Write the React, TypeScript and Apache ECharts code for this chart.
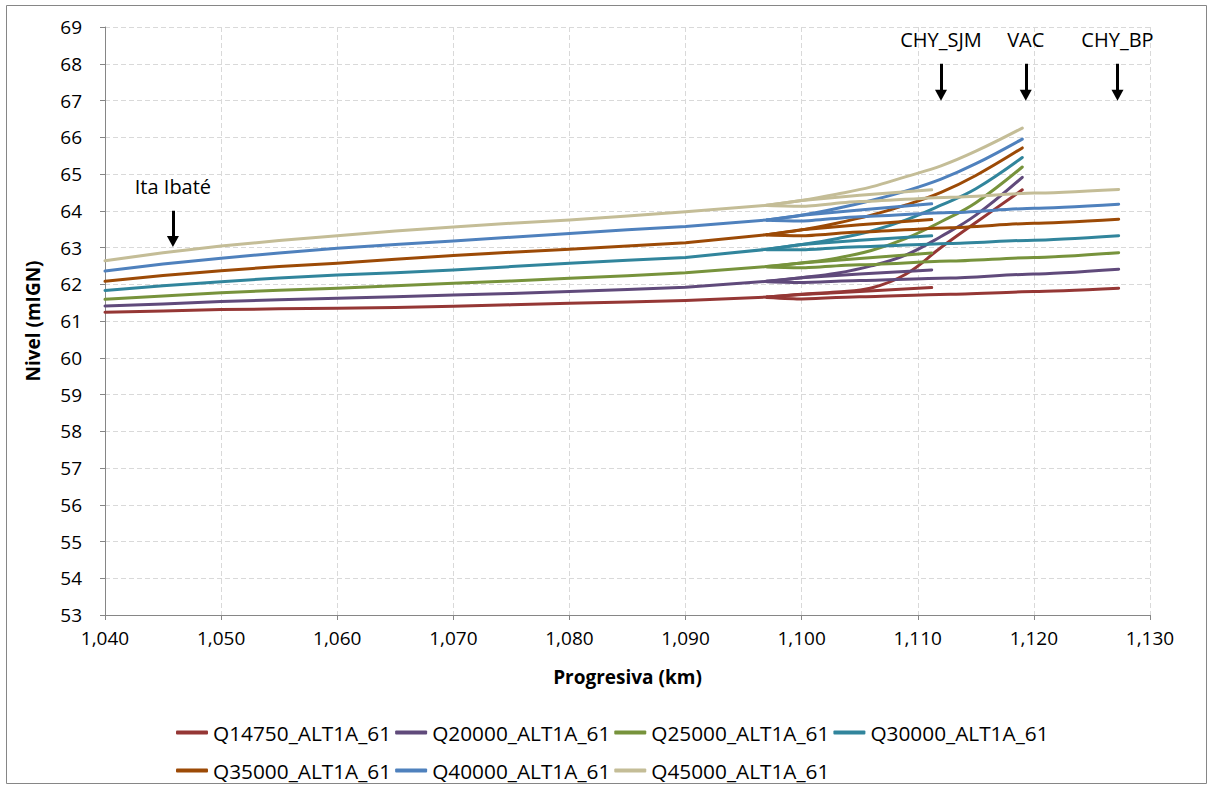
import React, { useEffect, useRef } from "react";
import * as echarts from "echarts";

// ---------- data ----------
const flowNames = [
  "Q14750_ALT1A_61",
  "Q20000_ALT1A_61",
  "Q25000_ALT1A_61",
  "Q30000_ALT1A_61",
  "Q35000_ALT1A_61",
  "Q40000_ALT1A_61",
  "Q45000_ALT1A_61",
];

const flowColors = ["#953735", "#604a7b", "#77933c", "#31859c", "#9c4a06", "#4f81bd", "#c4bd97"];

// main reach (upstream of the split)
const mainKm = [1040, 1045, 1050, 1055, 1060, 1065, 1070, 1075, 1080, 1085, 1090, 1097];
const levelsMain = [
  [61.24, 61.27, 61.31, 61.33, 61.35, 61.37, 61.40, 61.44, 61.48, 61.52, 61.56, 61.65],
  [61.41, 61.46, 61.53, 61.58, 61.62, 61.66, 61.71, 61.75, 61.80, 61.86, 61.92, 62.08],
  [61.59, 61.68, 61.77, 61.84, 61.89, 61.96, 62.03, 62.09, 62.16, 62.23, 62.31, 62.48],
  [61.83, 61.96, 62.07, 62.17, 62.25, 62.31, 62.39, 62.48, 62.57, 62.65, 62.73, 62.95],
  [62.08, 62.24, 62.37, 62.48, 62.57, 62.68, 62.78, 62.87, 62.95, 63.04, 63.13, 63.35],
  [62.36, 62.55, 62.71, 62.85, 62.98, 63.08, 63.18, 63.28, 63.38, 63.48, 63.57, 63.75],
  [62.64, 62.86, 63.04, 63.19, 63.32, 63.45, 63.56, 63.66, 63.75, 63.86, 63.97, 64.15],
];

// branch rising to VAC
const vacKm = [1097, 1100, 1103, 1106, 1109, 1112, 1115, 1119];
const levelsVac = [
  [61.65, 61.73, 61.79, 61.90, 62.28, 63.00, 63.68, 64.57],
  [62.08, 62.18, 62.30, 62.50, 62.80, 63.30, 63.88, 64.91],
  [62.48, 62.58, 62.71, 62.92, 63.25, 63.70, 64.22, 65.19],
  [62.95, 63.08, 63.24, 63.45, 63.75, 64.15, 64.60, 65.45],
  [63.35, 63.48, 63.66, 63.88, 64.16, 64.50, 64.96, 65.71],
  [63.75, 63.88, 64.06, 64.28, 64.54, 64.86, 65.28, 65.95],
  [64.15, 64.28, 64.45, 64.65, 64.93, 65.22, 65.62, 66.25],
];

// branch to CHY_SJM
const sjmKm = [1097, 1100, 1105, 1111.2];
const levelsSjm = [
  [61.65, 61.72, 61.80, 61.91],
  [62.08, 62.18, 62.28, 62.39],
  [62.48, 62.58, 62.70, 62.85],
  [62.95, 63.08, 63.20, 63.32],
  [63.35, 63.48, 63.62, 63.76],
  [63.75, 63.88, 64.02, 64.19],
  [64.15, 64.28, 64.42, 64.57],
];

// branch to CHY_BP
const bpKm = [1097, 1100, 1105, 1112.8, 1120, 1127.3];
const levelsBp = [
  [61.64, 61.60, 61.66, 61.73, 61.80, 61.89],
  [62.07, 62.05, 62.10, 62.17, 62.28, 62.41],
  [62.47, 62.45, 62.53, 62.63, 62.73, 62.86],
  [62.94, 62.94, 63.02, 63.11, 63.20, 63.32],
  [63.34, 63.32, 63.42, 63.54, 63.66, 63.77],
  [63.74, 63.72, 63.84, 63.95, 64.07, 64.18],
  [64.14, 64.12, 64.25, 64.37, 64.48, 64.58],
];

// annotations: label, km, arrow top level, arrow tip level, label level
const annotationNames = ["Ita Ibaté", "CHY_SJM", "VAC", "CHY_BP"];
const annotationKm = [1045.85, 1112.0, 1119.3, 1127.2];
const annotationTop = [64.0, 68.0, 68.0, 68.0];
const annotationTip = [63.02, 67.0, 67.0, 67.0];
const annotationLabelLevel = [64.65, 68.65, 68.65, 68.65];

const xMin = 1040;
const xMax = 1130;
const xStep = 10;
const yMin = 53;
const yMax = 69;
const yStep = 1;

const FONT = "'Open Sans', 'Noto Sans', sans-serif";

function pairs(km: number[], lv: number[]) {
  return km.map((k, i) => [k, lv[i]]);
}

export default function App() {
  const ref = useRef<HTMLDivElement>(null);

  useEffect(() => {
    if (!ref.current) return;
    const chart = echarts.init(ref.current, undefined, { renderer: "svg" });

    const series: any[] = [];
    flowNames.forEach((name, i) => {
      const base = {
        name,
        type: "line",
        symbol: "none",
        showSymbol: false,
        silent: true,
        color: flowColors[i],
        lineStyle: { width: 3, color: flowColors[i], cap: "round", join: "round" },
        emphasis: { disabled: true },
      };
      series.push({ ...base, data: pairs(mainKm, levelsMain[i]) });
      series.push({ ...base, smooth: 0.4, data: pairs(vacKm, levelsVac[i]) });
      series.push({ ...base, data: pairs(sjmKm, levelsSjm[i]) });
      series.push({ ...base, smooth: 0.2, smoothMonotone: "x", data: pairs(bpKm, levelsBp[i]) });
    });

    // annotation arrows + labels
    const tipPad = 0.14; // arrow-head half size in level units
    series.push({
      name: "annotations",
      type: "line",
      data: [],
      silent: true,
      markLine: {
        silent: true,
        animation: false,
        symbol: ["none", "triangle"],
        symbolSize: [12, 11],
        lineStyle: { color: "#000", width: 3, type: "solid" },
        label: { show: false },
        emphasis: { disabled: true },
        data: annotationNames.map((n, i) => [
          { coord: [annotationKm[i], annotationTop[i]] },
          { coord: [annotationKm[i], annotationTip[i] + tipPad] },
        ]),
      },
      markPoint: {
        silent: true,
        animation: false,
        symbol: "circle",
        symbolSize: 1,
        itemStyle: { color: "rgba(0,0,0,0)" },
        label: {
          show: true,
          position: "inside",
          formatter: "{b}",
          color: "#000",
          fontFamily: FONT,
          fontSize: 20,
        },
        data: annotationNames.map((n, i) => ({
          name: n,
          coord: [annotationKm[i], annotationLabelLevel[i]],
        })),
      },
    });

    const legendCommon = {
      left: 171,
      orient: "horizontal",
      icon: "roundRect",
      itemWidth: 32,
      itemHeight: 4,
      itemGap: 4,
      selectedMode: false,
      textStyle: {
        fontFamily: FONT,
        fontSize: 20.8,
        color: "#000",
      },
    };

    chart.setOption({
      animation: false,
      backgroundColor: "#ffffff",
      grid: { left: 105, right: 63, top: 27, bottom: 174, containLabel: false },
      legend: [
        { ...legendCommon, top: 717, data: flowNames.slice(0, 4) },
        { ...legendCommon, top: 755, data: flowNames.slice(4) },
      ],
      xAxis: {
        type: "value",
        min: xMin,
        max: xMax,
        interval: xStep,
        name: "Progresiva (km)",
        nameLocation: "middle",
        nameGap: 52,
        nameTextStyle: { fontFamily: FONT, fontSize: 19, fontWeight: "bold", color: "#000" },
        axisLine: { show: true, lineStyle: { color: "#868686", width: 1 } },
        axisTick: { show: true, length: 5, lineStyle: { color: "#868686" } },
        axisLabel: {
          color: "#000",
          fontFamily: FONT,
          fontSize: 19,
          margin: 13,
          formatter: (v: number) => v.toLocaleString("en-US"),
        },
        splitLine: { show: true, lineStyle: { color: "#d9d9d9", type: [5, 3], width: 1 } },
      },
      yAxis: {
        type: "value",
        min: yMin,
        max: yMax,
        interval: yStep,
        name: "Nivel (mIGN)",
        nameLocation: "middle",
        nameGap: 63,
        nameRotate: 90,
        nameTextStyle: { fontFamily: FONT, fontSize: 19, fontWeight: "bold", color: "#000" },
        axisLine: { show: true, lineStyle: { color: "#868686", width: 1 } },
        axisTick: { show: true, length: 5, lineStyle: { color: "#868686" } },
        axisLabel: { color: "#000", fontFamily: FONT, fontSize: 19, margin: 23 },
        splitLine: { show: true, lineStyle: { color: "#d9d9d9", type: [5, 3], width: 1 } },
      },
      graphic: [
        {
          type: "rect",
          silent: true,
          shape: { x: 6.5, y: 5.5, width: 1200, height: 778 },
          style: { fill: "none", stroke: "#868686", lineWidth: 1 },
          z: -1,
        },
      ],
      series,
    });

    return () => chart.dispose();
  }, []);

  return (
    <div
      ref={ref}
      style={{ position: "fixed", left: 0, top: 0, width: 1213, height: 789, background: "#fff" }}
    />
  );
}
